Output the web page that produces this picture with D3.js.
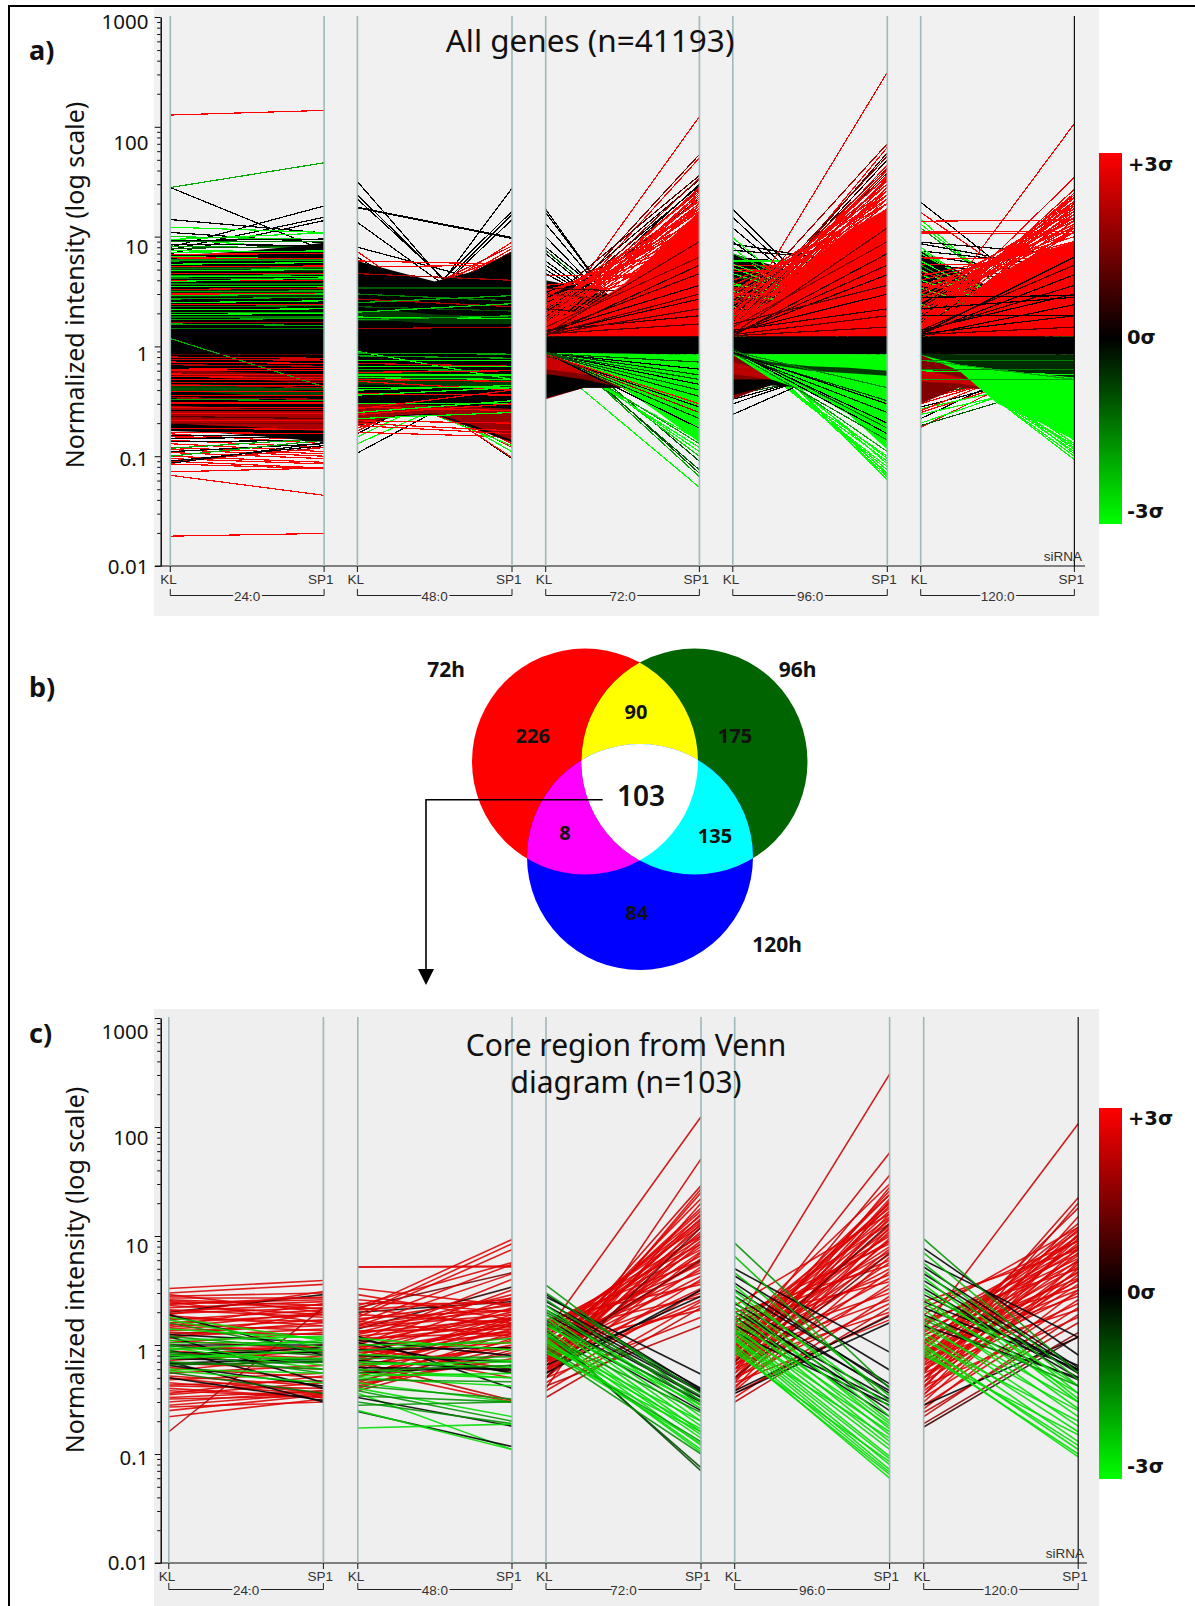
<!DOCTYPE html>
<html>
<head>
<meta charset="utf-8">
<style>
  html, body { margin: 0; padding: 0; background: #fff; }
  svg { display: block; }
  text { font-family: "Noto Sans", "Open Sans", sans-serif; fill: #111; }
  .small { font-family: "Liberation Sans", Arial, sans-serif; font-size: 13.5px; fill: #333; }
  .sig { font-family: "DejaVu Sans", sans-serif; }
</style>
<script src="https://cdn.jsdelivr.net/npm/d3@7"></script>
</head>
<body>
<svg id="fig" width="1195" height="1606"></svg>
<script>
// values: [KL, SP1, sigma]; bands: [sigma, top at 5 stations, bottom at 5 stations]
// layers per column: Back bands, Fans (hidden where dense), Bands, Over streaks
var timepoints = ['24.0', '48.0', '72.0', '96.0', '120.0'];
var conditions = ['KL', 'SP1'];
var yLabels = ['1000', '100', '10', '1', '0.1', '0.01'];
var yLabelValues = [1000, 100, 10, 1, 0.1, 0.01];
var stations = [0, 0.25, 0.5, 0.75, 1];

var a24Fans = [
  [128, 141, 3], [28, 47, -2], [28, 7.5, 0], [14.3, 10.8, 0], [8, 19, 0], [7.6, 15, 0], [7, 14, 0], [12.2, 10.9, -3], [10.9, 8.8, 0], [9.4, 10.8, -3],
  [10, 9.4, -2.5], [9.5, 7.6, -3], [9.2, 9.5, 0], [9, 9, -1.5], [8.5, 8.3, 0], [8.2, 7.8, -2], [7.8, 8.2, -1], [7.5, 7.2, -3],
  [.16, .13, 3], [.155, .155, 0], [.15, .145, 3], [.145, .15, 0], [.14, .12, 3], [.135, .14, 0], [.13, .11, 3], [.12, .105, 3], [.118, .145, -2], [.115, .1, 3], [.11, .13, 0], [.108, .095, 3], [.1, .088, 3], [.1, .14, -2],
  [.095, .085, 3], [.09, .125, 0], [.09, .078, 3], [.088, .12, 2.5], [.086, .133, 0], [.085, .077, 3], [.072, .078, 3], [.067, .044, 3], [.0187, .0198, 3]
];
var a24Bands = [
  [0, [6.8, 7, 7.4, 8, 8.8], [.17, .165, .155, .145, .135]],
  [2, [.29, .28, .27, .27, .27], [.2, .19, .185, .175, .17]],
  [1.6, [.62, .6, .58, .56, .55], [.54, .52, .5, .48, .48]],
  [-.8, [.45, .45, .44, .4, .38], [.39, .38, .36, .36, .36]],
  [-.7, [5.4, 5.4, 5.4, 5.4, 5.4], [4.8, 4.8, 4.8, 4.8, 4.8]],
  [-.6, [3.3, 3.3, 3.3, 3.3, 3.3], [2.8, 2.8, 2.8, 2.8, 2.8]]
];
var a24Over = [
  [7.2, 7.4, -3], [6.9, 7, 3], [6.6, 6.2, -3], [6.4, 6.3, 3], [6.2, 6.2, -1.5], [6, 6.1, -2], [5.6, 5.8, -3], [5.3, 5.4, 3], [5.1, 5.2, -1.5], [4.9, 5, -3], [4.6, 4.6, 3], [4.4, 4.5, -2], [4.3, 4.3, -3],
  [4.2, 4.1, -1.5], [4, 4, 3], [3.9, 4.2, -3], [3.7, 3.7, -1.5], [3.5, 3.5, -3], [3.3, 3.4, 2.5], [3.15, 3.2, -2], [3, 3, 3], [2.9, 3, -2.5], [2.7, 2.8, -2],
  [2.5, 2.6, -3], [2.4, 2.4, 3], [2.3, 2.35, -1.5], [2.15, 2.2, -3], [2.05, 2.05, -2], [1.95, 2, -3], [1.85, 1.85, -1.5], [1.75, 1.8, -2], [1.65, 1.65, 2], [1.6, 1.55, -2], [1.45, 1.45, -1.5],
  [1.18, .43, -2], [.85, .85, 1], [.8, .78, 2.5], [.76, .75, 2.5], [.72, .7, 3], [.68, .66, 2], [.62, .63, 3], [.6, .6, 3], [.56, .55, 3], [.53, .52, 3], [.5, .5, 3], [.47, .47, 2.5], [.45, .42, 2], [.44, .44, 3],
  [.41, .41, -1], [.39, .39, 3], [.36, .36, 3], [.34, .33, 2], [.33, .32, -2], [.31, .31, 3], [.3, .3, 3], [.28, .28, 3], [.26, .26, 0], [.245, .245, 3], [.23, .22, 1], [.21, .21, 3], [.2, .2, 1.5], [.18, .175, 3], [.165, .16, 3]
];

var a48Fans = [
  [31.7, .76, 0], [24, 1, 0], [22, 1.1, 0], [18.5, 9.8, 0], [18.3, 9.6, 0], [13.5, 1.3, 0], [8, 3.4, 0], [7.3, .76, 3], [6.5, .9, 0], [6, 1, 0], [5.6, 1.2, 0], [5.2, 1.4, 1],
  [.36, 27.5, 0], [.6, 16, 0], [.65, 14.3, 0], [.7, 17, 0], [1.15, 8.9, 3], [1.3, 7.3, 3], [1.4, 6.5, 3], [1.2, 7.8, 3], [2, 7, 3], [1.7, 8.2, 2.5], [1.8, 6, 3], [6, 5.6, 3], [5.3, 5.5, 3],
  [.107, .6, 0], [.13, .55, -3], [.15, .7, -3], [.16, .9, 0], [.17, .8, 3], [.18, .6, 3], [.165, .15, 3], [.19, .5, -3], [.2, .45, 3], [.85, .095, 0], [.8, .097, 3], [.7, .11, -3], [.65, .12, 3], [.6, .13, 3], [.55, .14, 3], [.5, .15, 3], [.5, .16, 0], [.45, .125, -3], [.4, .14, 3]
];
var a48Bands = [
  [0, [6, 4.8, 3.9, 4.8, 7.3], [.187, .23, .24, .18, .133]],
  [1.8, [.3, .3, .29, .28, .27], [.19, .235, .245, .19, .14]],
  [-.7, [.6, .6, .56, .55, .55], [.45, .44, .42, .42, .42]],
  [-.7, [2.1, 2.1, 1.95, 1.9, 1.9], [1.7, 1.7, 1.6, 1.6, 1.6]]
];
var a48Over = [
  [4.6, 4, 2], [3.4, 3.4, -1], [3, 2.6, -1.5], [2.7, 2.3, 2], [2.5, 2.9, -2], [2.3, 2.1, -1], [2.05, 2.45, -2.5], [1.85, 1.8, -3], [1.75, 1.9, -2], [1.45, 1.5, 2],
  [.9, .5, -3], [.87, .85, -2], [.82, .78, -2], [.75, .74, -3], [.7, .66, 2.5], [.66, .66, -3], [.62, .6, -2], [.58, .6, 3], [.55, .55, -3], [.52, .5, -3], [.5, .48, 3], [.48, .4, 3],
  [.42, .42, -3], [.4, .44, -3], [.37, .36, 3], [.36, .42, -3], [.3, .3, -3], [.28, .26, 3], [.27, .4, 3], [.25, .32, -3], [.24, .3, 3], [.22, .25, -3], [.21, .2, 3], [.2, .17, 3], [.19, .16, 3]
];

var a72Back = [
  [0, [4, 3.4, 2.6, 1.8, 1.5], [.85, .85, .85, .85, .85]]
];
var a72Fans = [
  [17.7, .2, 0], [16.6, .22, 0], [13, .3, 0], [10, .35, 0], [8, .6, 0], [7, .5, 0], [7.5, .5, -1], [6, .55, 0], [5.5, .6, 0], [5, .7, 0], [4.4, 4.4, 3], [4.6, .8, 0],
  [1.4, 124, 3], [1.5, 52, 3], [1.7, 56, 1.5], [1.6, 30, 0], [2, 29, 0], [2.5, 36, 1], [2.2, 33, .5], [1.8, 27, 2], [1.4, 25, 3], [1.5, 28, 3], [1.3, 23, 3], [1.7, 34, 2], [1.9, 22, .5], [2.3, 18, 3], [2.9, 14, 3], [3, 12, 3], [2.8, 17, 3], [3.2, 9, 3],
  [1.5, 20, 3], [1.45, 24, 3], [1.35, 19, 3], [1.6, 22, 3], [1.55, 18, 3], [1.4, 16, 3], [1.3, 15, 3], [1.7, 20, 3], [1.8, 17, 3], [2, 15, 3], [2.4, 13, 3], [2.1, 19, 3], [2.6, 11, 3], [1.25, 13, 3], [1.9, 26, 3], [2.2, 21, 3], [2.7, 9, 3], [2.6, 7, 3], [3.3, 6, 3], [3.6, 5, 3], [2.4, 5.5, 3], [2, 8, 3],
  [3.4, 3, 1], [3, 2.3, 2], [2.5, 1.9, 3], [2.2, 1.7, 1], [2, 2.1, 3],
  [.77, .052, -3], [1.3, .07, -1], [1.2, .075, -1], [1.25, .065, -2], [1.4, .09, -1], [1.1, .1, -2.5], [.9, .12, -3], [1, .11, -3], [.85, .14, -3], [.95, .13, -2], [1.1, .16, 3]
];
var a72Bands = [
  [3, [1.7, 2.2, 3.6, 8, 17], [1.23, 1.23, 1.23, 1.23, 1.23]],
  [0, [1.23, 1.23, 1.23, 1.23, 1.23], [.85, .85, .85, .85, .85]],
  [1.5, [.85, .6, .45, .42, .42], [.33, .42, .42, .42, .42]],
  [0, [.56, .5, .42, .42, .42], [.34, .42, .42, .42, .42]],
  [2.4, [.8, .65, .5, .42, .42], [.62, .56, .48, .42, .42]],
  [-3, [.87, .87, .86, .85, .85], [.85, .6, .42, .24, .133]]
];
var a72Over = [
  [1.3, 9, 1.2], [1.25, 5.5, .6], [1.35, 3.6, .4], [1.3, 2.7, .4], [1.4, 1.9, .6], [1.28, 2.2, 1], [1.3, 1.6, 1], [1.28, 3, 1], [1.5, 6.5, 1.5], [1.35, 4.6, .8],
  [.88, .55, -.7], [.87, .45, 0], [.86, .35, -.7], [.85, .28, 0], [.86, .22, -.6], [.87, .18, 0], [.85, .3, 3], [.86, .5, -1], [.87, .62, 0], [.86, .72, -1], [.86, .25, 2], [.86, .4, -1]
];

var a96Back = [
  [0, [7, 5.5, 3.8, 1.8, 1.4], [.85, .85, .85, .85, .85]]
];
var a96Fans = [
  [17.7, .7, 0], [15, .7, 0], [12, .8, 0], [9, .9, 0], [8.6, 5, 0], [9.8, .6, -3], [8, .5, -3], [7.5, 5.8, 0], [6.4, 5.2, 0], [5.5, 5, 3], [5, 4.7, 3], [6.6, 2, 0], [7, 1.6, -2],
  [6, 6, -3], [5.6, 1.9, -3], [5.2, 1.5, -3], [4.8, 4.7, 3], [4.6, 1.7, -3], [4.2, 3.6, -1], [3.8, 1.4, -3], [3.6, 2.5, -3], [3.2, 1.6, -3], [3, 3, 3], [2.9, 2.2, -3], [2.6, 1.6, -2], [2.3, 1.3, -3], [2.1, 2.1, 3], [1.9, 1.8, -2], [1.7, 1.4, -3], [3.4, 3.3, 2], [2.5, 3, 1],
  [1.5, 313, 3], [1.3, 65, 3], [1.4, 58, 1], [1.5, 50, .5], [1.6, 38, 1], [2, 70, 2], [1.4, 45, 3], [1.7, 54, 1.5], [1.9, 42, 2], [2.2, 35, 3], [2.5, 30, 3], [1.3, 28, 3], [3, 26, 3], [2.8, 24, 3], [2, 32, 3], [1.6, 26, 3],
  [1.35, 34, 3], [1.45, 28, 3], [1.5, 24, 3], [1.7, 30, 3], [1.8, 26, 3], [2.1, 24, 3], [1.4, 22, 3], [1.55, 20, 3], [2.4, 20, 3], [2.7, 22, 3], [1.3, 18, 3], [3.2, 20, 3], [1.9, 18, 3], [3.6, 15, 3], [4, 13, 3], [1.6, 40, 3], [1.8, 36, 3], [1.5, 33, 2.5],
  [1.6, .061, -3], [1.3, .065, -3], [1.2, .07, -3], [1.5, .068, -3], [1.1, .075, -3], [1, .08, -3], [.95, .09, -3], [1.4, .085, -3], [.9, .1, -3], [1.15, .095, -3], [1.05, .11, -2],
  [.24, 1, 0], [.3, .9, 0], [.33, .8, 0], [.35, .95, 3], [.36, .7, -1]
];
var a96Bands = [
  [3, [1.6, 2.6, 6, 11.5, 18], [1.23, 1.23, 1.23, 1.23, 1.23]],
  [0, [1.23, 1.23, 1.23, 1.23, 1.23], [.85, .85, .85, .85, .85]],
  [1.5, [.85, .6, .45, .42, .42], [.33, .45, .42, .42, .42]],
  [0, [.5, .5, .42, .42, .42], [.36, .44, .42, .42, .42]],
  [2.2, [.72, .58, .45, .42, .42], [.56, .5, .44, .42, .42]],
  [-3, [.86, .85, .85, .85, .85], [.84, .5, .38, .24, .115]],
  [-.7, [.86, .72, .66, .64, .6], [.84, .68, .6, .57, .54]]
];
var a96Over = [
  [1.3, 12, 1.2], [1.25, 7, .6], [1.3, 4.5, .4], [1.35, 3, .4], [1.4, 2.2, .6], [1.28, 1.9, 1], [1.25, 1.5, 1], [1.5, 9, 1.5], [1.3, 5.5, .8], [1.6, 3.6, 1],
  [.95, .18, -1], [.9, .2, 0], [.92, .16, 0], [.88, .14, -1.5], [.86, .32, -.8], [.87, .25, -.5], [.9, .42, -1.5], [.88, .3, 0]
];

var a120Back = [
  [0, [7.5, 4.8, 3.2, 1.9, 1.5], [.85, .85, .85, .85, .85]]
];
var a120Fans = [
  [20.6, 1.6, 0], [16.6, 1.8, 3], [14.3, .9, -3], [13.8, 14.2, 3], [13, 1, -3], [12, 1.1, -2], [11, 11.2, 3], [10.8, 10.6, 3], [8.9, 6.8, 0], [8.6, 4.8, 0], [7.4, 5.3, 0], [6.8, 4.2, 0], [8, .8, -3], [7.5, 1, -3], [7, 1.2, -3], [5.8, 3.6, 0], [5.3, 3.4, 0],
  [6.4, 6.2, 3], [5.6, 5.5, 3], [6, 1.1, -3], [5.5, .9, -2], [5, 1, -3], [4.5, 1.2, -3], [4.2, 3, 0], [4, 1.5, -3], [3.6, 2.5, 3], [3.4, 1.2, -3], [3, 1.5, -2], [2.8, 2.7, 3], [2.6, 2.6, 0], [2.4, 1.2, -3], [2.1, 2, 3], [1.9, 1.5, -2], [4.8, 1.7, 3], [3.8, 1.8, 3],
  [1.4, 107, 3], [1.5, 34.6, 3], [1.6, 22.6, 3], [1.4, 21, 3], [1.8, 20, 3], [2, 18, 3], [2.2, 16, 3], [1.5, 19, 3], [2.5, 15, 3], [1.7, 17, 3], [2.8, 13, 3], [1.4, 14, 3], [3.2, 11, 3], [2, 12.5, 3],
  [1.5, 25, 3], [1.4, 27, 3], [1.6, 20, 3], [1.7, 24, 3], [1.9, 23, 3], [2.1, 21, 3], [1.5, 16, 3], [1.8, 15, 3], [2.3, 18, 3], [2.6, 13, 3], [3, 14, 3], [3.4, 12, 3], [1.4, 12, 3], [1.6, 11, 3], [2.2, 11, 3], [3.6, 10, 3], [4, 9, 3], [4.4, 8.5, 3], [2.7, 19, 3], [3, 17, 3], [1.3, 16, 3],
  [.183, .9, 3], [.19, .5, -1], [.2, .6, -3], [.22, 1, 0], [.25, .7, 3], [.27, .55, -3], [.28, .65, 0], [.3, .8, 3], [.33, .7, 3], [.36, .6, -1], [.24, .5, -3], [.26, .95, 3],
  [1.1, .093, -3], [1.05, .1, -3], [1, .11, -3], [.95, .12, -3], [1.1, .13, -3], [.98, .15, -3], [1.3, .105, -3], [1.2, .115, -3], [.9, .125, -3], [1.4, .14, -3]
];
var a120Bands = [
  [3, [1.6, 2.3, 4.5, 7, 9], [1.23, 1.23, 1.23, 1.23, 1.23]],
  [0, [1.23, 1.23, 1.23, 1.23, 1.23], [.85, .85, .85, .85, .85]],
  [1.5, [.85, .62, .5, .36, .36], [.3, .42, .4, .36, .36]],
  [2.4, [.62, .52, .42, .36, .36], [.48, .46, .4, .36, .36]],
  [-3, [.86, .72, .62, .56, .52], [.84, .6, .3, .21, .14]],
  [-.5, [.86, .85, .85, .85, .85], [.84, .68, .6, .56, .52]]
];
var a120Over = [
  [1.3, 6.5, .4], [1.3, 4.5, .2], [1.4, 3, .2], [1.25, 2.4, .3], [1.3, 1.9, .3], [1.35, 3.6, .6], [1.28, 1.5, 1], [1.4, 5.5, .8], [2.2, 2.8, 0], [1.9, 1.9, 0], [2.8, 2.9, 0],
  [.74, .74, -1.5], [.62, .62, -1.5], [.5, .5, -2], [.6, .55, -3], [.75, .5, -2]
];

var c24 = [
  [3.3, 3.9, 3], [3, 3.6, 3], [2.9, 2, 3], [2.8, 3, 3], [2.6, 2.3, 3], [2.5, 1.6, 3], [2.4, 2.6, 3], [2.3, 1.9, 3], [2.2, 2.5, 3], [2.1, 1.8, 3], [2, 2.9, .3], [1.95, 2.2, 3], [1.9, 3.1, 3], [1.85, 1.5, 3], [1.7, 2.1, 3], [1.6, 1.9, 3], [1.55, 1.35, 3], [1.5, 2.4, 3], [1.4, 1.7, 3],
  [2.7, 2.7, 3], [2.55, 2.15, 3], [2.35, 2.75, 3], [2.05, 2.35, 3], [1.75, 1.65, 3], [1.45, 2, 3], [1.25, 1.6, 3], [1.35, 1.5, 3], [1.3, 1.25, 2.5], [1.2, 1.4, 3], [1.15, 2, 3], [1.1, .9, 3], [1.05, 1.3, 3], [1, .85, 3], [.92, .95, 3], [.88, .75, 3], [.8, 1, 3], [.72, .88, 3], [.68, .6, 3], [.62, .5, 3], [.58, .8, 3], [.55, .65, 3], [.52, .42, 3], [.5, .36, 3],
  [.48, .55, 3], [.45, .35, 3], [.43, .47, 3], [.42, .4, 3], [.4, .33, 3], [.38, .33, 3], [.36, .52, 3], [.35, .45, 3], [.33, .38, 3], [.32, .34, 3], [.3, .38, 3], [.28, .36, 3], [.27, .3, 3], [.25, .35, 3], [.22, .32, 3], [.16, 2.2, 2.5],
  [1.9, .8, 0], [1.2, .45, 0], [.9, .4, 0], [.75, .7, 0], [.7, .3, 0], [.65, .42, 0], [.5, .31, 0], [1, 1, 0], [.85, .85, 0], [.78, .95, 0], [.68, .75, 0], [1.25, 1.05, 0],
  [1.8, 1.1, -3], [1.7, .95, -3], [1.6, .85, -2], [1.4, 1.15, -3], [1.2, .9, -2], [1.1, 1.2, -3], [1.05, 1.05, -2.5], [1, .65, -3], [.98, .8, -1.5], [.95, .6, -3], [.9, 1.1, -3], [.87, .55, -2], [.82, .72, -2], [.8, .75, -3], [.75, .9, -3], [.7, .6, -2], [.66, .7, -1.5], [.6, .55, -3], [.58, .45, -3], [.56, .36, -1.5]
];

var c48 = [
  [5.2, 5.2, 3], [5.2, 5.3, 3], [3.3, 2.3, 3], [2.9, 1.7, 3], [2.3, 5.7, 3], [2.2, 4.6, 1.5], [2.1, 9.3, 3], [2, 2.5, 0], [1.9, 8.5, 3], [1.8, 7.5, 3], [1.6, 5.5, 3], [1.5, 4.5, 3], [1.4, 3.4, .5], [1.3, 2.9, 3], [1.7, 2.7, 3], [2.4, 2.4, 3], [1.1, 4, 3], [1, 3.2, 3], [.9, 2.7, 3],
  [2.1, 2.6, 3], [1.9, 1.6, 3], [1.75, 2.1, 3], [1.55, 2.3, 3], [1.45, 1.9, 3], [1.35, 1.4, 3], [1.25, 2.4, 3], [1.2, 1.7, 3], [1.15, 1.3, 3], [1.05, 2, 3], [.95, 1.8, 3], [.88, 1.5, 3], [.85, 1.05, 3], [.8, 2.2, 3], [.75, 1.6, 3], [.72, 1.2, 3], [.68, 1.9, 3], [.65, .95, 3],
  [.62, 1.4, 3], [.58, 1.7, 3], [.55, 1, 3], [.5, 1.55, 3], [.47, .95, 3], [.45, 1.3, 3], [.42, .85, 3], [.4, 1.15, 3], [.38, .9, 2.5], [.95, .56, 3], [1, .6, 3], [.9, .5, 3], [.7, .31, 2.5], [.6, .3, 3],
  [2.6, 2, 3], [2.2, 1.45, 3], [1.65, 1.2, 3], [1.5, 2.1, 3], [1.3, 1.75, 3], [1.1, 1.55, 3], [.98, 1.25, 3], [.78, 1.35, 3], [.7, 1.75, 3], [.52, 1.1, 3], [.44, .75, 3],
  [1.2, .4, 0], [1.05, .55, 0], [.9, .95, 0], [.72, .58, 0], [.62, .6, 0], [.55, .65, 0], [1.1, .8, 0], [.8, .7, 0],
  [1.15, .9, -3], [1, 1.05, -3], [.88, 1.15, -2.5], [.82, .72, -3], [.75, .78, -2], [.7, .62, -3], [.66, .7, -3], [.6, .5, -3], [.58, .65, -2], [.55, .5, -3], [.52, .55, -3], [.5, .42, -3], [.48, .46, -2], [.45, .3, -3], [.42, .32, -2],
  [.4, .22, -3], [.38, .2, -2], [.36, .11, -3], [.34, .3, -2], [.33, .18, 0], [.3, .19, -2], [.28, .3, -2], [.245, .117, 0], [.25, .11, -3], [.173, .188, -3]
];

var c72 = [
  [1.3, 124, 2.7], [.4, 51, 2.7], [.7, 29, 2.7], [.55, 27, 3], [.6, 25, 3], [.8, 22, 3], [.5, 20, 3], [.9, 18, 3], [.65, 16, 3], [1.1, 15.5, 3], [.75, 14.5, 3], [.95, 13.5, 3], [.6, 13, 3], [1.3, 12.5, 3], [.85, 12, 3], [.7, 11, 3], [1, 10.5, 3], [.55, 10, 3], [1.2, 9.5, 3], [.8, 9, 3],
  [.65, 8.5, 3], [.9, 8, 3], [1.4, 7.5, 3], [.75, 7.2, 3], [.5, 7, 3], [1.05, 6.6, 3], [.7, 6.2, 3], [.85, 5.8, 3], [1.25, 5.5, 3], [.6, 5.2, 3], [.95, 4.9, 3], [1.5, 4.6, 3], [.8, 4.3, 3], [.55, 4, 3], [1.1, 3.8, 3], [1.7, 3.6, 3], [.7, 3.3, 3], [.45, 3.2, 3], [.9, 3, 3], [1.3, 2.8, 3],
  [.6, 2.6, 3], [.38, 2.5, 3], [.33, 2.2, 2.5], [.75, 2.3, 3], [1, 2.1, 3], [.5, 1.8, 3], [.42, 1.5, 2.5], [1.2, 14, 3], [.95, 17, 3], [1.45, 10, 3], [1.55, 8.4, 3], [1.6, 6, 3],
  [.55, 3.2, 0], [.65, 2.8, 0], [.5, 12, 1.5], [.8, 6, 1.5],
  [2.76, .54, 0], [2.5, .4, 0], [2.3, .38, 0], [2.1, .37, 0], [1.9, .33, 0], [1.7, .3, 0], [2.9, .39, 0], [1.55, .25, 0], [1.4, .07, -1], [1.3, .075, -1],
  [3.55, .3, -2], [3, .36, -2], [2.6, .28, -2], [2.3, .22, -3], [2.1, .26, -3], [1.9, .2, -3], [1.75, .18, -3], [1.6, .16, -3], [1.5, .28, -3], [1.4, .15, -3], [1.3, .14, -3], [1.25, .12, -3], [1.2, .24, -2], [1.15, .104, -3],
  [1.1, .11, -3], [1.05, .2, -3], [1, .17, -3], [.95, .13, -2], [.9, .125, -3], [.88, .1, -2], [.85, .16, -3], [1.6, .31, -2], [2, .34, -1.5]
];

var c96 = [
  [1.5, 306, 2.7], [.9, 58, 2.7], [.7, 36, 2.7], [1.3, 30, 3], [.55, 28, 3], [.8, 26, 3], [1.1, 24, 3], [.6, 22, 3], [.45, 21, 3], [1, 20, 3], [.7, 19, 3], [1.4, 18, 3], [.85, 17, 3], [.5, 16, 3], [1.2, 15, 3], [.65, 14.5, 3], [.95, 14, 3], [1.6, 13, 3], [.75, 12.5, 3], [.4, 12, 3],
  [1.05, 11.5, 3], [.6, 11, 3], [.85, 10.5, 3], [1.35, 10, 3], [.5, 9.5, 3], [.7, 9, 3], [1.8, 8.5, 3], [.95, 8, 3], [.55, 7.6, 3], [1.15, 7.2, 3], [.8, 6.8, 3], [.38, 6.4, 3], [1.5, 6, 3], [.65, 5.7, 3], [2, 5.4, 3], [.9, 5, 3], [.48, 4.7, 3], [1.25, 4.4, 3], [.72, 4.1, 3], [1.7, 3.8, 3],
  [.42, 3.6, 3], [.6, 3.3, 3], [1, 3, 3], [.33, 2.8, 3], [.8, 2.6, 3], [.5, 2.4, 3], [.3, 2.2, 2.5], [.68, 2, 3], [.36, 1.9, 3], [.45, 1.7, 3], [1.1, 20, 3], [.9, 24, 3], [2.3, 16, 3], [1.3, 9, 3],
  [.38, 1.85, 0], [.36, 1.6, 0], [.5, 7, 1.5], [.7, 13, 1.5],
  [5, .86, 0], [4.3, .59, 0], [3.7, .41, 0], [3.2, .44, 0], [2.8, .36, 0], [2.4, .38, 0], [2, .32, 0], [1.8, .22, 0], [1.5, .3, 0], [2.2, .25, 0], [1.3, .28, 0],
  [8.6, .4, -2], [6.5, .3, -2.5], [4.6, .34, -2.5], [3.5, .22, -3], [3.1, .27, -3], [2.8, .2, -3], [2.5, .17, -3], [2.2, .19, -3], [2, .15, -3], [1.8, .13, -3], [1.65, .18, -3], [1.5, .12, -3], [1.35, .11, -3], [1.3, .095, -3],
  [1.2, .09, -3], [1.15, .08, -3], [1.1, .072, -3], [1, .068, -3], [.95, .06, -3], [.9, .065, -3], [1.1, .14, -3], [.85, .085, -3], [1.4, .16, -3]
];

var c120 = [
  [1.4, 107, 2.7], [.55, 22.4, 2.7], [.45, 20, 2.7], [.75, 18, 2.7], [.4, 15, 3], [1, 13, 2.7], [.9, 12, 3], [.6, 11.5, 3], [1.2, 11, 3], [.35, 10.5, 3], [.8, 10, 3], [.5, 9.5, 3], [1.5, 9, 3], [.68, 8.6, 3], [.95, 8.2, 3], [.42, 7.8, 3], [1.1, 7.4, 3], [.58, 7, 3], [.78, 6.6, 3], [1.35, 6.2, 3],
  [.3, 5.8, 3], [.5, 5.5, 3], [.85, 5.2, 3], [1.7, 5, 3], [.65, 4.7, 3], [.38, 4.4, 3], [1.05, 4.1, 3], [.72, 3.9, 3], [.46, 3.6, 3], [1.25, 3.4, 3], [.26, 3.2, 3], [.6, 3, 3], [.9, 2.8, 3], [.33, 2.6, 3], [.55, 2.4, 3], [.28, 2.2, 3], [.75, 2.1, 3], [.22, 1.9, 2.5], [.42, 1.8, 3], [.24, 1.6, 2.5],
  [1.9, 12, 3], [2.2, 9, 3], [1.6, 6.8, 3], [2.5, 7.5, 3], [1.3, 8, 3], [1.05, 10, 3], [.65, 6, 3], [.5, 4, 3], [.35, 5, 3], [.85, 3.2, 3], [1.1, 5.8, 3], [.78, 4.6, 3],
  [.28, 1.18, 0], [.177, 1.2, .8], [.19, 1.3, 2],
  [7.7, .81, 0], [6, 1.18, 0], [5.2, .62, 0], [4.5, .59, 0], [3.9, .55, 0], [3.3, .5, 0], [2.9, .58, 0], [2.5, .65, 0], [2.2, .6, 0], [1.9, .48, 0], [1.5, .5, 0],
  [9.4, .55, -2], [7, .48, -2.5], [5.6, .42, -2.5], [4.8, .36, -3], [4.2, .32, -3], [3.6, .3, -3], [3.1, .42, -3], [2.7, .26, -3], [2.4, .36, -3], [2.1, .22, -3], [1.85, .3, -3], [1.6, .18, -3], [1.45, .25, -3], [1.3, .16, -3],
  [1.2, .13, -3], [1.1, .2, -3], [1, .11, -3], [.95, .12, -3], [.9, .094, -3], [.85, .1, -3], [.8, .15, -3], [1.7, .42, -2]
];

var aBackLayers = [[], [], a72Back, a96Back, a120Back];
var aFanLayers = [a24Fans, a48Fans, a72Fans, a96Fans, a120Fans];
var aBandLayers = [a24Bands, a48Bands, a72Bands, a96Bands, a120Bands];
var aOverLayers = [a24Over, a48Over, a72Over, a96Over, a120Over];
var cLines = [c24, c48, c72, c96, c120];

var vennSets = ['72h', '96h', '120h'];
var vennCounts = ['226', '90', '175', '103', '8', '135', '84'];

var svg = d3.select('#fig');
var defs = svg.append('defs');
var sigmaColor = d3.scaleLinear().domain([-3, 0, 3]).range(['#00ff00', '#000000', '#ff0000']);

var grad = defs.append('linearGradient').attr('id', 'sigmaGrad').attr('x1', 0).attr('x2', 0).attr('y1', 0).attr('y2', 1);
[3, 0, -3].forEach(function(s, i) {
  grad.append('stop').attr('offset', i / 2).attr('stop-color', sigmaColor(s));
});

// frame
svg.append('path').attr('d', 'M1195,6H9V1606').attr('fill', 'none').attr('stroke', '#000').attr('stroke-width', 2);

function drawPanel(cfg) {
  svg.append('rect').attr('x', 154).attr('y', cfg.bgTop).attr('width', 945).attr('height', cfg.bgBottom - cfg.bgTop).attr('fill', cfg.bg);

  var g = svg.append('g');
  var y = d3.scaleLog().domain([0.01, 1000]).range([cfg.y0, cfg.y1]);

  // y axis
  var ax = g.append('g').attr('transform', 'translate(160.7,0)')
    .call(d3.axisLeft(y).tickValues(y.ticks()).tickSizeOuter(0).tickFormat(''));
  ax.selectAll('.tick line').attr('x2', function(d) {
    return yLabelValues.indexOf(d) >= 0 ? -6 : -3.5;
  }).attr('stroke', '#111');
  ax.select('.domain').attr('stroke', '#000').attr('stroke-width', 1.4);

  yLabels.forEach(function(lab, i) {
    g.append('text').attr('x', 148.5).attr('y', y(yLabelValues[i]) + cfg.labelNudge[i])
      .attr('dy', '.36em').attr('text-anchor', 'end').attr('font-size', 20.5).text(lab);
  });

  // x axis
  g.append('line').attr('x1', 155).attr('x2', cfg.axisEnd).attr('y1', cfg.y0).attr('y2', cfg.y0).attr('stroke', '#111').attr('stroke-width', 1.2);

  timepoints.forEach(function(tp, i) {
    var x0 = cfg.colX[i][0], x1 = cfg.colX[i][1];
    var x = d3.scalePoint().domain(conditions).range([x0, x1]);
    var t = d3.scaleLinear().domain([0, 1]).range([x0, x1]);
    var col = g.append('g');

    // dense parts are kept as envelopes
    var area = d3.area().x(function(d) { return t(d[0]); }).y0(function(d) { return y(d[1]); }).y1(function(d) { return y(d[2]); });
    function drawBands(list) {
      (list || []).forEach(function(b) {
        col.append('path')
          .attr('d', area(stations.map(function(s, k) { return [s, b[1][k], b[2][k]]; })))
          .attr('fill', sigmaColor(b[0]));
      });
    }
    function drawLines(list) {
      col.append('g').selectAll('line').data(list || []).join('line')
        .attr('x1', x('KL')).attr('x2', x('SP1'))
        .attr('y1', function(d) { return y(d[0]); })
        .attr('y2', function(d) { return y(d[1]); })
        .attr('stroke', function(d) { return sigmaColor(d[2] * cfg.shade); })
        .attr('stroke-width', cfg.lineWidth)
        .attr('shape-rendering', cfg.crisp ? 'crispEdges' : 'auto')
        .attr('stroke-opacity', cfg.crisp ? 1 : 0.88);
    }
    drawBands(cfg.back && cfg.back[i]);
    drawLines(cfg.fans && cfg.fans[i]);
    drawBands(cfg.bands && cfg.bands[i]);
    drawLines(cfg.over[i]);

    // condition rules
    conditions.forEach(function(c) {
      var last = i === 4 && c === 'SP1';
      g.append('line').attr('x1', x(c)).attr('x2', x(c)).attr('y1', cfg.y1 - 1).attr('y2', cfg.y0)
        .attr('stroke', last ? '#111' : '#9db9b9').attr('stroke-width', last ? 1.2 : 1.6);
      g.append('line').attr('x1', x(c)).attr('x2', x(c)).attr('y1', cfg.y0).attr('y2', cfg.y0 + 6).attr('stroke', '#111');
      g.append('text').attr('class', 'small').attr('x', c === 'KL' ? x(c) - 10 : x(c) - 16).attr('y', cfg.y0 + 18).text(c);
    });

    // bracket
    g.append('path').attr('d', 'M' + x0 + ',' + (cfg.y0 + cfg.bracket) + 'v6.5H' + x1 + 'v-6.5').attr('fill', 'none').attr('stroke', '#222');
    g.append('text').attr('class', 'small').attr('x', (x0 + x1) / 2).attr('y', cfg.y0 + cfg.bracket + 12).attr('text-anchor', 'middle')
      .attr('stroke', cfg.bg).attr('stroke-width', 4).attr('paint-order', 'stroke').attr('stroke-linejoin', 'round').text(tp);
  });

  g.append('text').attr('class', 'small').attr('x', cfg.axisEnd - 3).attr('y', cfg.y0 - 5).attr('text-anchor', 'end').text('siRNA');

  // y title
  g.append('text').attr('transform', 'translate(' + cfg.titleX + ',' + cfg.titleY + ') rotate(-90)')
    .attr('text-anchor', 'middle').attr('font-size', 25).text('Normalized intensity (log scale)');

  // colour bar
  svg.append('rect').attr('x', 1099).attr('y', cfg.barTop).attr('width', 23).attr('height', cfg.barBottom - cfg.barTop).attr('fill', 'url(#sigmaGrad)');
  ['+3σ', '0σ', '-3σ'].forEach(function(lab, i) {
    svg.append('text').attr('class', 'sig').attr('x', [1128, 1127, 1127][i]).attr('y', cfg.barLabelY[i]).attr('dy', '.36em')
      .attr('font-size', 19.5).attr('font-weight', 700).text(lab);
  });

  // panel title
  cfg.title.forEach(function(line, i) {
    svg.append('text').attr('x', 626 + (cfg.titleShift || 0)).attr('y', cfg.titleTop + i * 37).attr('dy', '.36em')
      .attr('text-anchor', 'middle').attr('font-size', cfg.titleSize).text(line);
  });
}

drawPanel({
  bgTop: 8, bgBottom: 616, bg: '#f1f1f1', y0: 566, y1: 17, axisEnd: 1085, bracket: 23, shade: 1,
  colX: [[170.3, 324.1], [357.4, 512], [545.7, 699.4], [732.8, 887.3], [920.7, 1074.4]],
  back: aBackLayers, fans: aFanLayers, bands: aBandLayers, over: aOverLayers, crisp: true, lineWidth: 1.2,
  labelNudge: [5, 16, 10, 7, 2, 1], titleX: 84, titleY: 285,
  barTop: 153, barBottom: 524, barLabelY: [164, 337, 511],
  title: ['All genes (n=41193)'], titleTop: 41, titleShift: -36, titleSize: 31.5
});

drawPanel({
  bgTop: 1009, bgBottom: 1606, bg: '#efefef', y0: 1563, y1: 1018, axisEnd: 1087, bracket: 20, shade: 0.87,
  colX: [[168.8, 323.4], [357.8, 512], [546, 701], [734.7, 889.6], [923.7, 1078.2]],
  over: cLines, crisp: false, lineWidth: 1.6,
  labelNudge: [14, 11, 10, 7, 4, 0], titleX: 84, titleY: 1270,
  barTop: 1108, barBottom: 1479, barLabelY: [1118, 1292, 1466],
  title: ['Core region from Venn', 'diagram (n=103)'], titleTop: 1045, titleSize: 30
});

// panel letters
[['a)', 50], ['b)', 687], ['c)', 1033]].forEach(function(d) {
  svg.append('text').attr('x', 29).attr('y', d[1]).attr('dy', '.36em').attr('font-size', 27).attr('font-weight', 700).text(d[0]);
});

// venn: each region is a circle clipped by the others
var vennCircles = [[585, 761.5, 113], [694.5, 761.5, 113], [640, 857, 113]];
var vennColors = { '100': '#ff0000', '010': '#006400', '001': '#0000ff', '110': '#ffff00', '101': '#ff00ff', '011': '#00ffff', '111': '#ffffff' };
vennCircles.forEach(function(c, i) {
  defs.append('clipPath').attr('id', 'vc' + i).append('circle').attr('cx', c[0]).attr('cy', c[1]).attr('r', c[2]);
});
var vennG = svg.append('g');
function vennFill(colour, ids) {
  var parent = vennG;
  ids.forEach(function(id) { parent = parent.append('g').attr('clip-path', 'url(#vc' + id + ')'); });
  parent.append('rect').attr('x', 440).attr('y', 620).attr('width', 400).attr('height', 370).attr('fill', colour);
}
vennFill(vennColors['100'], [0]);
vennFill(vennColors['010'], [1]);
vennFill(vennColors['001'], [2]);
vennFill(vennColors['110'], [0, 1]);
vennFill(vennColors['101'], [0, 2]);
vennFill(vennColors['011'], [1, 2]);
vennFill(vennColors['111'], [0, 1, 2]);

var vennCountPos = [[532.7, 735.7], [636, 712], [735, 736], [641, 796], [565, 833], [715, 835.7], [637, 913]];
vennCounts.forEach(function(n, i) {
  svg.append('text').attr('x', vennCountPos[i][0]).attr('y', vennCountPos[i][1]).attr('dy', '.36em').attr('text-anchor', 'middle')
    .attr('font-size', n === '103' ? 28 : 20).attr('font-weight', n === '103' ? 600 : 700).text(n);
});
var vennSetPos = [[446, 669], [797.7, 669], [777, 944]];
vennSets.forEach(function(n, i) {
  svg.append('text').attr('x', vennSetPos[i][0]).attr('y', vennSetPos[i][1]).attr('dy', '.36em').attr('text-anchor', 'middle')
    .attr('font-size', 21).attr('font-weight', 700).text(n);
});

// arrow from the core region to panel c
svg.append('path').attr('d', 'M602.7,799.7H426V970').attr('fill', 'none').attr('stroke', '#000').attr('stroke-width', 1.6);
svg.append('path').attr('d', 'M418,969H434L426,985Z').attr('fill', '#000');
</script>
</body>
</html>
